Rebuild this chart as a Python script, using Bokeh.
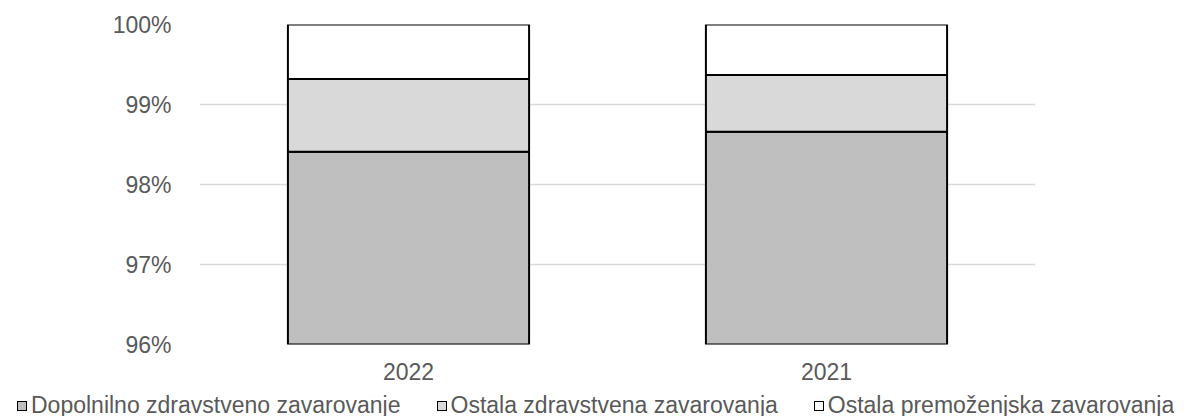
from bokeh.plotting import figure
from bokeh.layouts import column
from bokeh.models import Range1d, FactorRange, FixedTicker, ColumnDataSource, Div
from bokeh.embed import file_html
from bokeh.resources import INLINE

years = ["2022", "2021"]
dopolnilno = [98.41, 98.66]
ostala_zdravstvena = [0.91, 0.71]
ostala_premozenjska = [0.68, 0.63]
series_names = ["Dopolnilno zdravstveno zavarovanje",
                "Ostala zdravstvena zavarovanja",
                "Ostala premoženjska zavarovanja"]
series_keys = ["dop", "ozd", "opr"]
colors = ["#BFBFBF", "#D9D9D9", "#FFFFFF"]
y_ticks = [96, 97, 98, 99, 100]

source = ColumnDataSource(dict(years=years, dop=dopolnilno, ozd=ostala_zdravstvena, opr=ostala_premozenjska))

FONT = "Liberation Sans"
TXT = "#595959"

p = figure(width=1202, height=390, output_backend="svg", toolbar_location=None,
           x_range=FactorRange(*years), y_range=Range1d(96, 100),
           min_border_left=199, min_border_right=167, min_border_top=24, min_border_bottom=46)
p.outline_line_color = None
p.background_fill_color = "white"

renderers = p.vbar_stack(series_keys, x="years", width=0.577, source=source,
                         fill_color=colors, line_color="black", line_width=2)

p.yaxis.ticker = FixedTicker(ticks=y_ticks)
p.yaxis.major_label_overrides = {t: f"{t}%" for t in y_ticks}
p.yaxis.axis_line_color = None
p.yaxis.major_tick_line_color = None
p.yaxis.minor_tick_line_color = None
p.yaxis.major_label_standoff = 22
p.yaxis.major_label_text_font = FONT
p.yaxis.major_label_text_font_size = "23px"
p.yaxis.major_label_text_color = TXT

p.xaxis.axis_line_color = None
p.xaxis.major_tick_line_color = None
p.xaxis.major_label_standoff = 12
p.xaxis.major_label_text_font = FONT
p.xaxis.major_label_text_font_size = "23px"
p.xaxis.major_label_text_color = TXT

p.xgrid.grid_line_color = None
p.ygrid.grid_line_color = "#D9D9D9"
p.ygrid.grid_line_width = 1.5
p.ygrid.level = "underlay"

# legend strip (HTML) below the chart
parts = []
for i, (name, col) in enumerate(zip(series_names, colors)):
    ml = "0px" if i == 0 else "36px"
    parts.append(
        f'<span style="display:inline-block;width:10px;height:10px;border:1.5px solid #000;'
        f'background:{col};margin-left:{ml};margin-right:4px;vertical-align:2px"></span>'
        f'<span>{name}</span>')
legend_html = (f'<div style="font-family:\'{FONT}\';font-size:23px;color:{TXT};white-space:nowrap;'
               f'line-height:20px;padding-left:12px;padding-top:0px;height:26px;overflow:hidden">'
               + "".join(parts) + '</div>')
lg = Div(text=legend_html, width=1202, height=26, styles={"overflow": "hidden"})

layout = column(p, lg, spacing=0)
open("out.html", "w").write(file_html(layout, INLINE))
